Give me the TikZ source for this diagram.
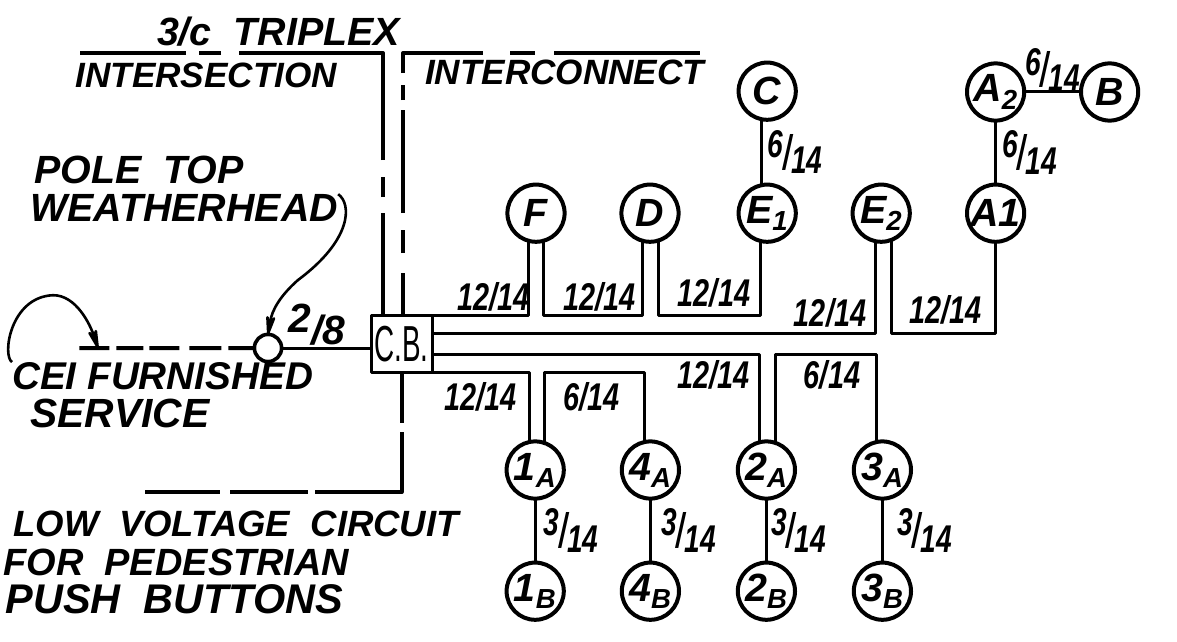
\documentclass[tikz,border=0pt]{standalone}
\usepackage{fontspec}
\setmainfont{Liberation Sans}
\usetikzlibrary{arrows.meta, positioning}

\newcommand{\wirespan}[1]{\scalebox{.82}[1.1]{#1}}
\newcommand{\wirefrac}[2]{\scalebox{.8}[1.1]{\raisebox{.3em}{#1}\scalebox{1}[1.25]{/}\raisebox{-.12em}{#2}}}

\begin{document}
\begin{tikzpicture}[on grid,>={Stealth[round,length=7mm,width=3mm]},line join=round,
		stn/.style={circle,draw,line width=.1cm,minimum size=1.43cm,inner sep=0pt,outer sep=0pt,font=\bfseries\itshape\fontsize{28}{28}\selectfont},
		wire/.style={line width=.075cm},
		run/.style={line width=.1cm},
		lead/.style={line width=.065cm},
		hand/.style={anchor=west,inner sep=0pt,font=\bfseries\itshape\fontsize{#1}{#1}\selectfont},
		wirelab/.style={inner sep=0pt,font=\bfseries\itshape\fontsize{25}{25}\selectfont}]
		
		\useasboundingbox (0,0) rectangle (29.425,-16.025);
		
		\node (cb) [draw,wire,minimum width=1.525cm,minimum height=1.425cm,inner sep=0pt,outer sep=0pt,font=\fontsize{36}{36}\selectfont] at (10.04,-8.59) {\scalebox{.55}[1]{C.B.}};
		
		\node (F) [stn, above right=3.26cm and 3.36cm of cb] {F};
		\node (D) [stn, right=2.85cm of F] {D};
		\node (E1) [stn, right=2.93cm of D] {E\textsubscript{1}};
		\node (C) [stn, above=3.05cm of E1] {C};
		\node (E2) [stn, right=2.85cm of E1] {E\textsubscript{2}};
		\node (A1) [stn, right=2.86cm of E2] {A1};
		\node (A2) [stn, above=3.03cm of A1] {A\textsubscript{2}};
		\node (B) [stn, right=2.85cm of A2] {B};
		
		\node (1A) [stn, below right=3.16cm and 3.34cm of cb] {1\textsubscript{A}};
		\node (4A) [stn, right=2.88cm of 1A] {4\textsubscript{A}};
		\node (2A) [stn, right=2.9cm of 4A] {2\textsubscript{A}};
		\node (3A) [stn, right=2.9cm of 2A] {3\textsubscript{A}};
		\node (1B) [stn, below=3.03cm of 1A] {1\textsubscript{B}};
		\node (4B) [stn, below=3.03cm of 4A] {4\textsubscript{B}};
		\node (2B) [stn, below=3.03cm of 2A] {2\textsubscript{B}};
		\node (3B) [stn, below=3.03cm of 3A] {3\textsubscript{B}};
		
		\node (wh) [circle,draw,line width=.09cm,minimum size=.68cm,inner sep=0pt,outer sep=0pt, below left=.11cm and 3.34cm of cb] {};
		
		% service drop and feed
		\coordinate (svcend) at (1.95,-8.7);
		\coordinate (svctee) at (2.45,-8.7);
		\path [draw,wire] (wh.east) -- (wh.east -| cb.west);
		\path [draw,run,dash pattern=on 6.5mm off 1.75mm on 8mm off 2.5mm on 7.5mm off 1.5mm on 6.75mm off 1.75mm on 7.5mm] (wh.west) -- (svcend);
		
		% low voltage runs
		\coordinate (isecfoot) at ([xshift=.3cm]cb.north west);
		\coordinate (isecend) at (2,-1.33);
		\coordinate (linkfoot) at ([xshift=.8cm]cb.north west);
		\coordinate (linkend) at (17.5,-1.33);
		\coordinate (lowend) at (3.575,-12.3);
		\draw [run,dash pattern=on 25.5mm off 4mm on 5mm off 4.25mm on 62.75mm off 4.5mm on 5.5mm off 3.25mm on 26.5mm] (isecfoot) |- (isecend);
		\draw [run,dash pattern=on 10.5mm off 5mm on 5.75mm off 4.25mm on 25.75mm off 2.5mm on 3.75mm off 3mm on 25mm off 6.75mm on 6.25mm off 4.75mm on 36.75mm] (linkfoot) |- (linkend);
		\draw [run,dash pattern=on 12.75mm off 2.25mm on 36.75mm off 1.75mm on 19.5mm off 2.5mm on 18.75mm] (cb.south) |- (lowend);
		
		% upper bus
		\draw [wire] (cb.north east) -| (F.255);
		\draw [wire] (F.285) -- (F.285 |- cb.north) -- (D.254 |- cb.north) -- (D.254);
		\draw [wire] (D.287) -- (D.287 |- cb.north) -- (E1.257 |- cb.north) -- (E1.257);
		\draw [wire] (cb.18) -| (E2.258);
		\draw [wire] (E2.291) -- (E2.291 |- cb.18) -- (A1.south |- cb.18) -- (A1.south);
		
		% lower bus
		\draw [wire] (cb.south east) -| (1A.102);
		\draw [wire] (1A.72) -- (1A.72 |- cb.south) -- (4A.101 |- cb.south) -- (4A.101);
		\draw [wire] (cb.-20) -| (2A.103);
		\draw [wire] (2A.72) -- (2A.72 |- cb.-20) -- (3A.101 |- cb.-20) -- (3A.101);
		
		\path [wire]
		(C.258) edge node (l6c) [wirelab,xshift=.85cm] {\wirefrac{6}{14}} (E1.102)
		(A2.south) edge node (l6a) [wirelab,xshift=.85cm] {\wirefrac{6}{14}} (A1.north)
		(A2.east) edge node (l6b) [wirelab,yshift=.55cm] {\wirefrac{6}{14}} (B.west)
		(1A.south) edge node (l3a) [wirelab,xshift=.9cm] {\wirefrac{3}{14}} (1B.north)
		(4A.south) edge node (l3b) [wirelab,xshift=.95cm] {\wirefrac{3}{14}} (4B.north)
		(2A.south) edge node (l3c) [wirelab,xshift=.8cm] {\wirefrac{3}{14}} (2B.north)
		(3A.south) edge node (l3d) [wirelab,xshift=1.05cm] {\wirefrac{3}{14}} (3B.north);
		
		\node (l12f) [wirelab] at (12.34,-7.42) {\wirespan{12/14}};
		\node (l12d) [wirelab] at (14.98,-7.42) {\wirespan{12/14}};
		\node (l12e) [wirelab] at (17.85,-7.32) {\wirespan{12/14}};
		\node (l12t) [wirelab] at (20.75,-7.82) {\wirespan{12/14}};
		\node (l12a) [wirelab] at (23.63,-7.75) {\wirespan{12/14}};
		\node (l12i) [wirelab] at (12.02,-9.92) {\wirespan{12/14}};
		\node (l6i) [wirelab] at (14.79,-9.92) {\wirespan{6/14}};
		\node (l12j) [wirelab] at (17.84,-9.37) {\wirespan{12/14}};
		\node (l6j) [wirelab] at (20.8,-9.37) {\wirespan{6/14}};
		\node (l28) [wirelab,font=\bfseries\itshape\fontsize{29}{29}\selectfont] at (7.93,-8.12) {\raisebox{.3em}{2}/8};
		
		\node (triplex) [hand=28] at (3.92,-0.8) {3/c\ \ TRIPLEX};
		\node (isec) [hand=25] at (1.88,-1.88) {INTERSECTION};
		\node (link) [hand=25] at (10.62,-1.8) {INTERCONNECT};
		\node (pole) [hand=28] at (.85,-4.25) {POLE\ \ TOP};
		\node (head) [hand=28] at (.75,-5.2) {WEATHERHEAD};
		\node (cei) [hand=27.5] at (.3,-9.4) {CEI FURNISHED};
		\node (serv) [hand=29] at (.75,-10.33) {SERVICE};
		\node (lowv) [hand=26] at (.33,-13.1) {LOW\ \ VOLTAGE\ \ CIRCUIT};
		\node (ped) [hand=27] at (.08,-14.05) {FOR\ \ PEDESTRIAN};
		\node (push) [hand=29.5] at (.13,-14.98) {PUSH\ \ BUTTONS};
		
		\draw [lead,->] (head.north east) .. controls (8.8,-5.1) and (8.8,-6) .. (7.45,-7) .. controls (7,-7.4) and (6.8,-7.75) .. (wh.north);
		\draw [lead,->] (cei.north west) .. controls (.05,-8.9) and (.25,-7.42) .. (1.33,-7.38) .. controls (1.9,-7.38) and (2.25,-8.1) .. (svctee);
	\end{tikzpicture}
\end{document}
